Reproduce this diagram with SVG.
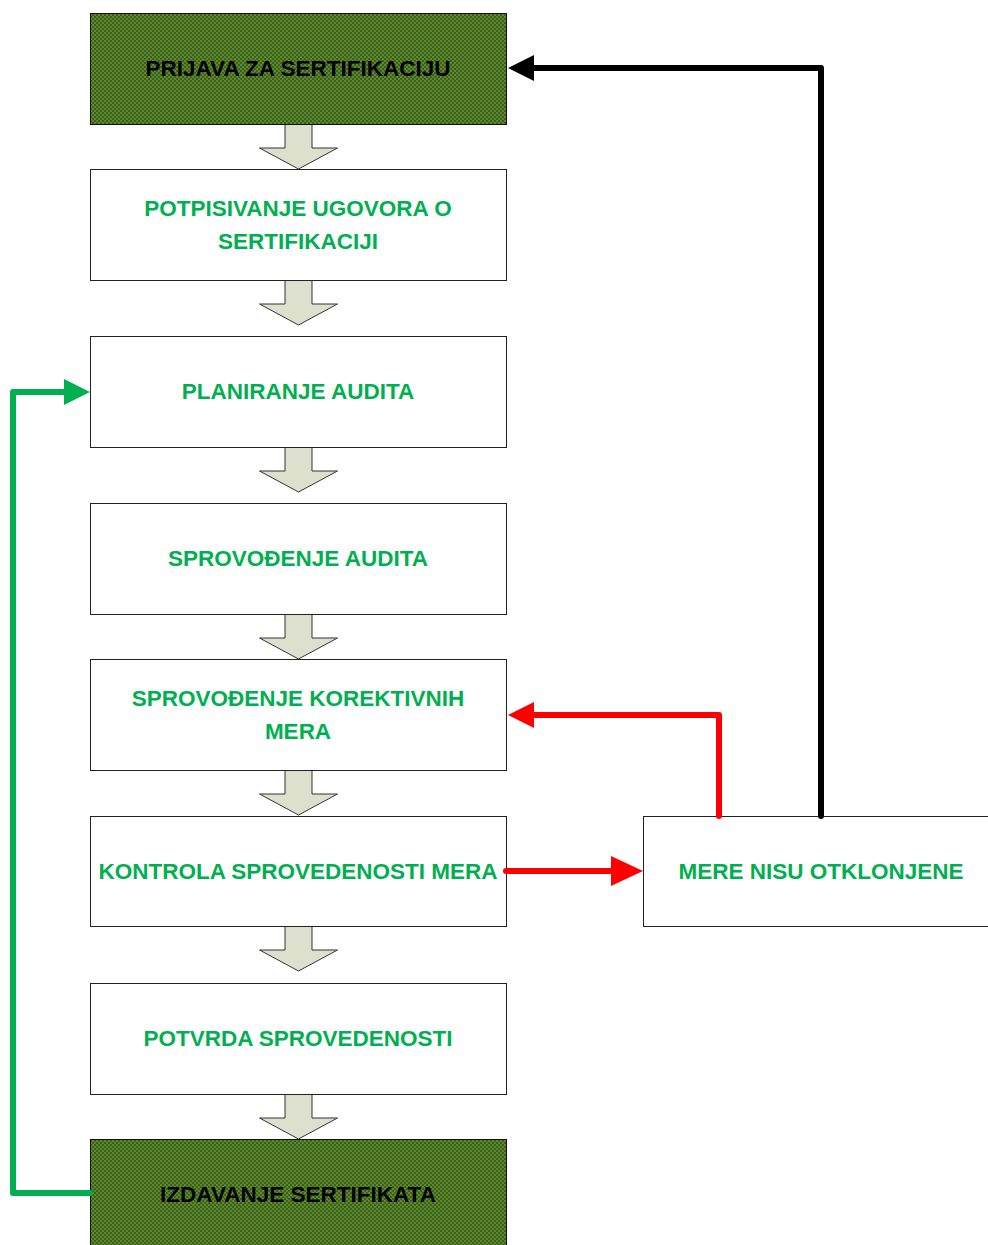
<svg xmlns="http://www.w3.org/2000/svg" width="988" height="1245" viewBox="0 0 988 1245">
<defs>
<pattern id="chk" width="4" height="4" patternUnits="userSpaceOnUse">
<rect width="4" height="4" fill="#3d5e1c"/>
<rect width="2" height="2" fill="#5b8a2c"/>
<rect x="2" y="2" width="2" height="2" fill="#5b8a2c"/>
</pattern>
<marker id="ab" viewBox="0 0 26 26" refX="1" refY="13" markerWidth="26" markerHeight="26" markerUnits="userSpaceOnUse" orient="auto"><path d="M0,0 L26,13 L0,26 Z" fill="#000"/></marker>
<marker id="ar" viewBox="0 0 26 26" refX="1" refY="13" markerWidth="26" markerHeight="26" markerUnits="userSpaceOnUse" orient="auto"><path d="M0,0 L26,13 L0,26 Z" fill="#ff0000"/></marker>
<marker id="ar2" viewBox="0 0 32 30" refX="1" refY="15" markerWidth="32" markerHeight="30" markerUnits="userSpaceOnUse" orient="auto"><path d="M0,0 L32,15 L0,30 Z" fill="#ff0000"/></marker>
<marker id="ag" viewBox="0 0 26 26" refX="1" refY="13" markerWidth="26" markerHeight="26" markerUnits="userSpaceOnUse" orient="auto"><path d="M0,0 L26,13 L0,26 Z" fill="#00b050"/></marker>
<path id="blk" d="M-13.5,0 L13.5,0 L13.5,24 L39,24 L0,45 L-39,24 L-13.5,24 Z"/>
</defs>
<style>
.box{fill:#fff;stroke:#222;stroke-width:1}
.dark{fill:url(#chk);stroke:#111;stroke-width:1}
.t{font-family:"Liberation Sans",Arial,sans-serif;font-weight:bold;font-size:22.5px;fill:#00b050;text-anchor:middle;dominant-baseline:central}
.td{fill:#000}
.ba{fill:#dde0cc;stroke:#333;stroke-width:1}
.c{fill:none;stroke-width:6;stroke-linejoin:round;stroke-linecap:round}
</style>
<rect width="988" height="1245" fill="#fff"/>
<g id="blockarrows">
<use href="#blk" class="ba" x="298.5" y="124"/>
<use href="#blk" class="ba" x="298.5" y="280"/>
<use href="#blk" class="ba" x="298.5" y="447"/>
<use href="#blk" class="ba" x="298.5" y="614"/>
<use href="#blk" class="ba" x="298.5" y="770"/>
<use href="#blk" class="ba" x="298.5" y="926"/>
<use href="#blk" class="ba" x="298.5" y="1094"/>
</g>
<g id="n1"><rect class="dark" x="90.5" y="13.5" width="416" height="111"/><text class="t td" x="298" y="68">PRIJAVA ZA SERTIFIKACIJU</text></g>
<g id="n2"><rect class="box" x="90.5" y="169.5" width="416" height="111"/><text class="t" x="298" y="208">POTPISIVANJE UGOVORA O</text><text class="t" x="298" y="241">SERTIFIKACIJI</text></g>
<g id="n3"><rect class="box" x="90.5" y="336.5" width="416" height="111"/><text class="t" x="298" y="391">PLANIRANJE AUDITA</text></g>
<g id="n4"><rect class="box" x="90.5" y="503.5" width="416" height="111"/><text class="t" x="298" y="558">SPROVOĐENJE AUDITA</text></g>
<g id="n5"><rect class="box" x="90.5" y="659.5" width="416" height="111"/><text class="t" x="298" y="698">SPROVOĐENJE KOREKTIVNIH</text><text class="t" x="298" y="731">MERA</text></g>
<g id="n6"><rect class="box" x="90.5" y="816.5" width="416" height="110"/><text class="t" x="298" y="871">KONTROLA SPROVEDENOSTI MERA</text></g>
<g id="n7"><rect class="box" x="90.5" y="983.5" width="416" height="111"/><text class="t" x="298" y="1038">POTVRDA SPROVEDENOSTI</text></g>
<g id="n8"><rect class="dark" x="90.5" y="1139.5" width="416" height="110"/><text class="t td" x="298" y="1194">IZDAVANJE SERTIFIKATA</text></g>
<g id="n9"><rect class="box" x="643.5" y="816.5" width="350" height="110"/><text class="t" x="821" y="871">MERE NISU OTKLONJENE</text></g>
<g id="connectors">
<path class="c" stroke="#000" d="M821,816 L821,68 L533,68" marker-end="url(#ab)"/>
<path class="c" stroke="#ff0000" d="M719,816 L719,715 L533,715" marker-end="url(#ar)"/>
<path class="c" stroke="#ff0000" d="M506,871 L612,871" marker-end="url(#ar2)"/>
<path class="c" stroke="#00b050" stroke-width="5" d="M90,1193 L13,1193 L13,392 L65,392" marker-end="url(#ag)"/>
</g>
</svg>
